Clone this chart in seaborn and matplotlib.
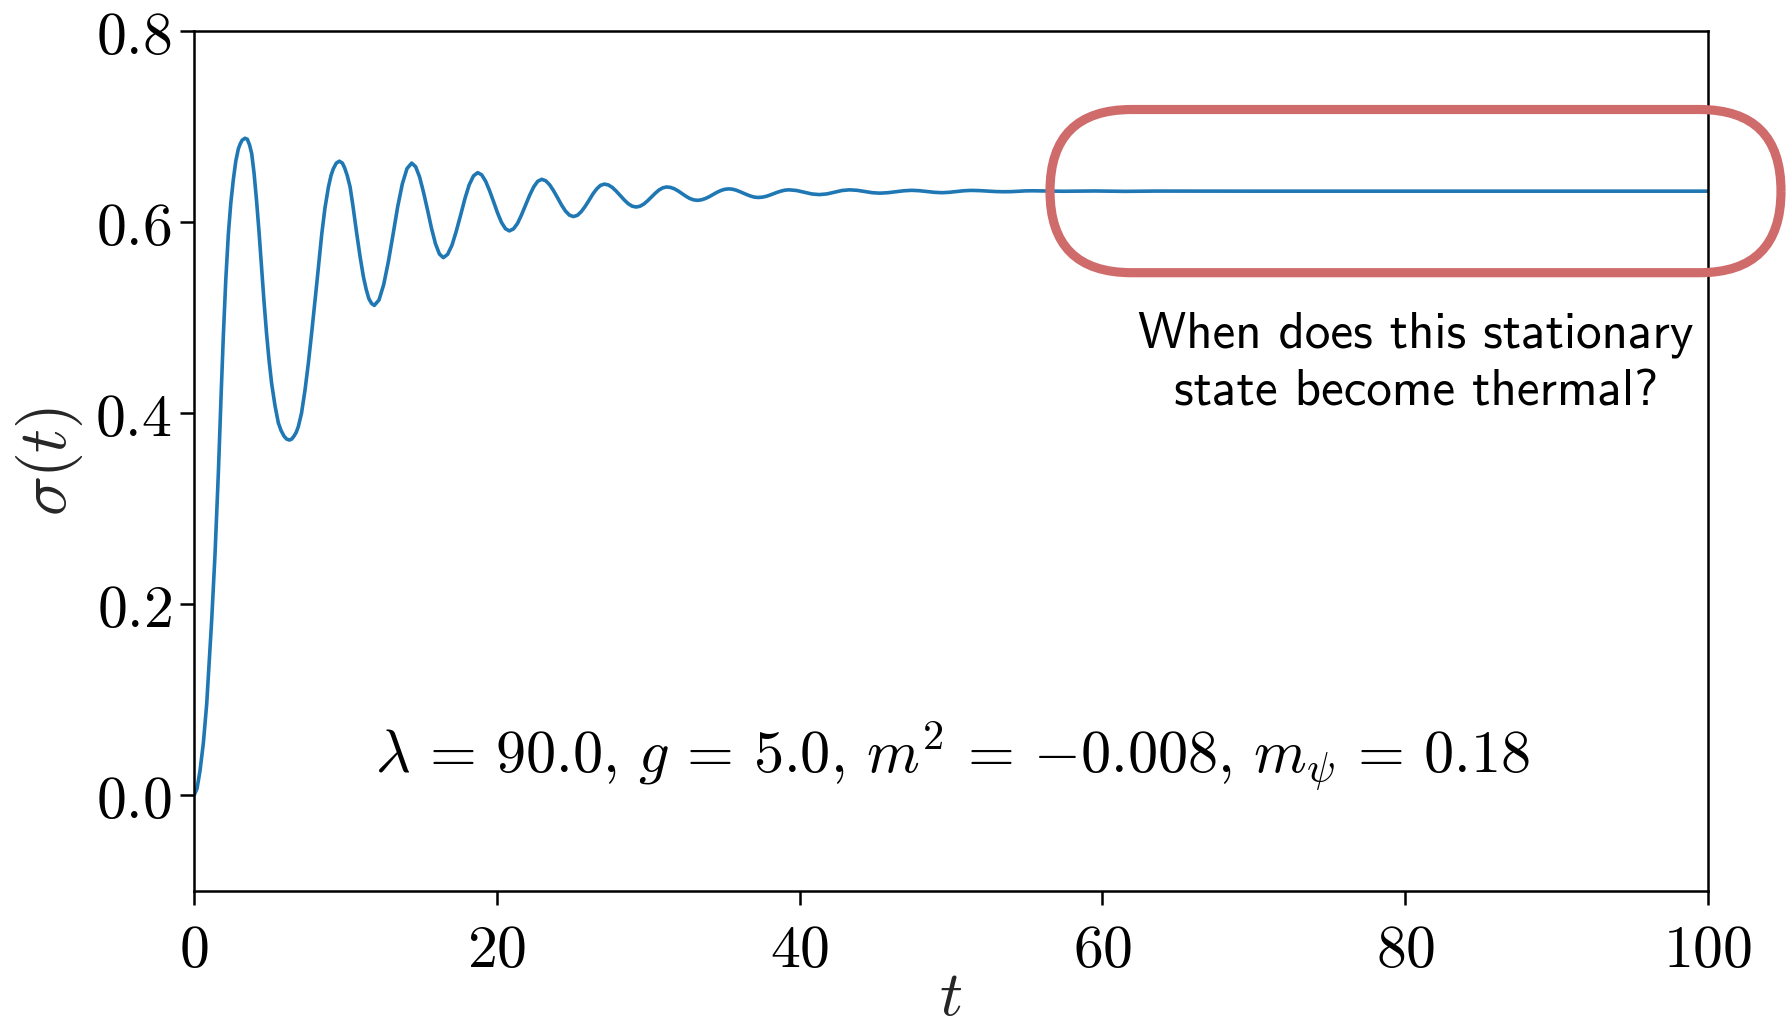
import matplotlib
matplotlib.use("Agg")
import matplotlib.pyplot as plt
from matplotlib.patches import FancyBboxPatch
from matplotlib.ticker import FuncFormatter
import pandas as pd
import seaborn as sns

# sigma(t)
t_vals = [
    0.0, 0.2, 0.4, 0.62, 0.84, 1.0, 1.17, 1.39, 1.61, 1.8, 1.94, 2.1, 2.27, 2.43, 2.6, 2.76,
    2.93, 3.05, 3.18, 3.37, 3.52, 3.67, 3.81, 3.97, 4.13, 4.3, 4.46, 4.62, 4.79, 4.96, 5.13,
    5.35, 5.57, 5.75, 5.95, 6.12, 6.3, 6.45, 6.6, 6.75, 6.89, 7.1, 7.33, 7.55, 7.77, 8.11,
    8.44, 8.65, 8.88, 9.05, 9.2, 9.4, 9.6, 9.8, 9.95, 10.12, 10.31, 10.5, 10.75, 10.97,
    11.19, 11.37, 11.55, 11.73, 11.91,
    12.22, 12.53, 12.84, 13.15, 13.45, 13.76, 14.07, 14.38,
    14.64, 14.90, 15.16, 15.43, 15.69, 15.95, 16.21, 16.47,
    16.75, 17.04, 17.32, 17.61, 17.89, 18.17, 18.46, 18.74,
    19.0, 19.26, 19.52, 19.79, 20.05, 20.31, 20.57, 20.83,
    21.10, 21.37, 21.63, 21.90, 22.17, 22.44, 22.70, 22.97,
    23.23, 23.49, 23.75, 24.02, 24.28, 24.54, 24.80, 25.06,
    25.32, 25.57, 25.83, 26.09, 26.34, 26.60, 26.85, 27.11,
    27.37, 27.63, 27.89, 28.16, 28.42, 28.68, 28.94, 29.2,
    29.45, 29.71, 29.96, 30.22, 30.47, 30.72, 30.98, 31.23,
    31.48, 31.74, 31.99, 32.24, 32.49, 32.74, 33.0, 33.25,
    33.51, 33.76, 34.02, 34.28, 34.53, 34.79, 35.04, 35.30,
    35.55, 35.80, 36.04, 36.29, 36.54, 36.79, 37.03, 37.28,
    37.53, 37.79, 38.04, 38.29, 38.54, 38.80, 39.05, 39.3,
    39.8, 40.3, 40.8, 41.3, 41.8, 42.3, 42.8, 43.3,
    43.8, 44.3, 44.8, 45.3, 45.83, 46.35, 46.88, 47.4,
    47.9, 48.4, 48.9, 49.4, 49.88, 50.35, 50.83, 51.3,
    51.85, 52.4, 52.95, 53.5, 53.98, 54.45, 54.93, 55.4,
    57.4, 59.5, 61.5, 63.5, 70.0, 80.0, 90.0, 100.0,
]
sigma_vals = [
    0.0, 0.007, 0.026, 0.055, 0.096, 0.138, 0.184, 0.253, 0.338, 0.423, 0.482, 0.54, 0.588, 0.62, 0.645, 0.664,
    0.677, 0.682, 0.686, 0.688, 0.687, 0.681, 0.672, 0.651, 0.623, 0.589, 0.553, 0.518, 0.484, 0.455, 0.431,
    0.408, 0.39, 0.382, 0.376, 0.373, 0.372, 0.373, 0.376, 0.380, 0.386, 0.400, 0.424, 0.452, 0.484, 0.536,
    0.588, 0.615, 0.637, 0.649, 0.656, 0.662, 0.664, 0.662, 0.657, 0.649, 0.637, 0.617, 0.588, 0.564,
    0.543, 0.530, 0.520, 0.515, 0.513,
    0.5187, 0.5348, 0.559, 0.5875, 0.616, 0.6402, 0.6563, 0.662,
    0.6582, 0.6475, 0.6314, 0.6125, 0.5936, 0.5775, 0.5668, 0.563,
    0.5664, 0.576, 0.5905, 0.6075, 0.6245, 0.639, 0.6486, 0.652,
    0.6497, 0.6431, 0.6332, 0.6215, 0.6098, 0.5999, 0.5933, 0.591,
    0.5931, 0.5989, 0.6077, 0.618, 0.6283, 0.6371, 0.6429, 0.645,
    0.6435, 0.6393, 0.633, 0.6255, 0.618, 0.6117, 0.6075, 0.606,
    0.6073, 0.611, 0.6165, 0.623, 0.6295, 0.635, 0.6387, 0.640,
    0.6391, 0.6365, 0.6326, 0.628, 0.6234, 0.6195, 0.6169, 0.616,
    0.6168, 0.6191, 0.6225, 0.6265, 0.6305, 0.6339, 0.6362, 0.637,
    0.6365, 0.635, 0.6327, 0.630, 0.6273, 0.625, 0.6235, 0.623,
    0.6235, 0.6248, 0.6267, 0.629, 0.6313, 0.6332, 0.6345, 0.635,
    0.6347, 0.6337, 0.6322, 0.6305, 0.6288, 0.6273, 0.6263, 0.626,
    0.6263, 0.6272, 0.6285, 0.630, 0.6315, 0.6328, 0.6337, 0.634,
    0.6333, 0.6315, 0.6297, 0.629, 0.6297, 0.6315, 0.6333, 0.634,
    0.6335, 0.6323, 0.631, 0.6305, 0.631, 0.632, 0.633, 0.6335,
    0.6331, 0.6323, 0.6314, 0.631, 0.6314, 0.6322, 0.633, 0.6334,
    0.6332, 0.6327, 0.6322, 0.632, 0.6321, 0.6325, 0.6329, 0.633,
    0.6325, 0.6328, 0.6324, 0.6327, 0.6326, 0.6326, 0.6326, 0.6326,
]

x_ticks = [0, 20, 40, 60, 80, 100]
y_ticks = [0.0, 0.2, 0.4, 0.6, 0.8]
params_label = r'$\lambda\,=\,90.0,\,g\,=\,5.0,\,m^2\,=\,{-0.008},\,m_\psi\,=\,0.18$'
question = "When does this stationary\nstate become thermal?"

df = pd.DataFrame({"t": t_vals, "sigma": sigma_vals})

sns.set_style("ticks", {"axes.edgecolor": "black", "xtick.color": "black", "ytick.color": "black",
                        "text.color": "black"})
plt.rcParams["mathtext.fontset"] = "cm"
plt.rcParams["font.family"] = ["DejaVu Sans"]

fig = plt.figure(figsize=(8.945, 5.16), dpi=200)
ax = fig.add_axes([0.10844, 0.13682, 0.84628, 0.83285])

sns.lineplot(data=df, x="t", y="sigma", ax=ax, color="#1f77b4", linewidth=1.3)

ax.set_xlim(0, 100)
ax.set_ylim(-0.1, 0.8)
ax.set_xticks(x_ticks)
ax.set_yticks(y_ticks)
ax.xaxis.set_major_formatter(FuncFormatter(lambda v, p: f"${v:.0f}$"))
ax.yaxis.set_major_formatter(FuncFormatter(lambda v, p: f"${v:.1f}$"))
ax.tick_params(axis="both", labelsize=21.5, length=5, width=0.9, direction="out")
ax.tick_params(axis="y", pad=3)
ax.tick_params(axis="x", pad=6)
for s in ax.spines.values():
    s.set_linewidth(0.9)
    s.set_visible(True)

ax.set_xlabel(r"$t$", fontsize=23)
ax.set_ylabel(r"$\sigma(t)$", fontsize=24)
ax.xaxis.set_label_coords(0.5, -0.088)
ax.yaxis.set_label_coords(-0.072, 0.5)

ax.text(50.1, 0.025, params_label, fontsize=21.7, ha="center", va="baseline", color="black")

# stadium outline around the plateau (figure inches, so the ends stay round)
box = FancyBboxPatch((5.25, 3.7965), 3.655, 0.816,
                     boxstyle="round,pad=0,rounding_size=0.408",
                     transform=fig.dpi_scale_trans,
                     fill=False, edgecolor="#CF6B6B", linewidth=3.3, clip_on=False, zorder=3)
ax.add_patch(box)

ax.text(80.7, 0.452, question, fontsize=18.4, family="cmss10", ha="center", va="center",
        linespacing=1.33, color="black")

fig.savefig("out.png", dpi=200)
